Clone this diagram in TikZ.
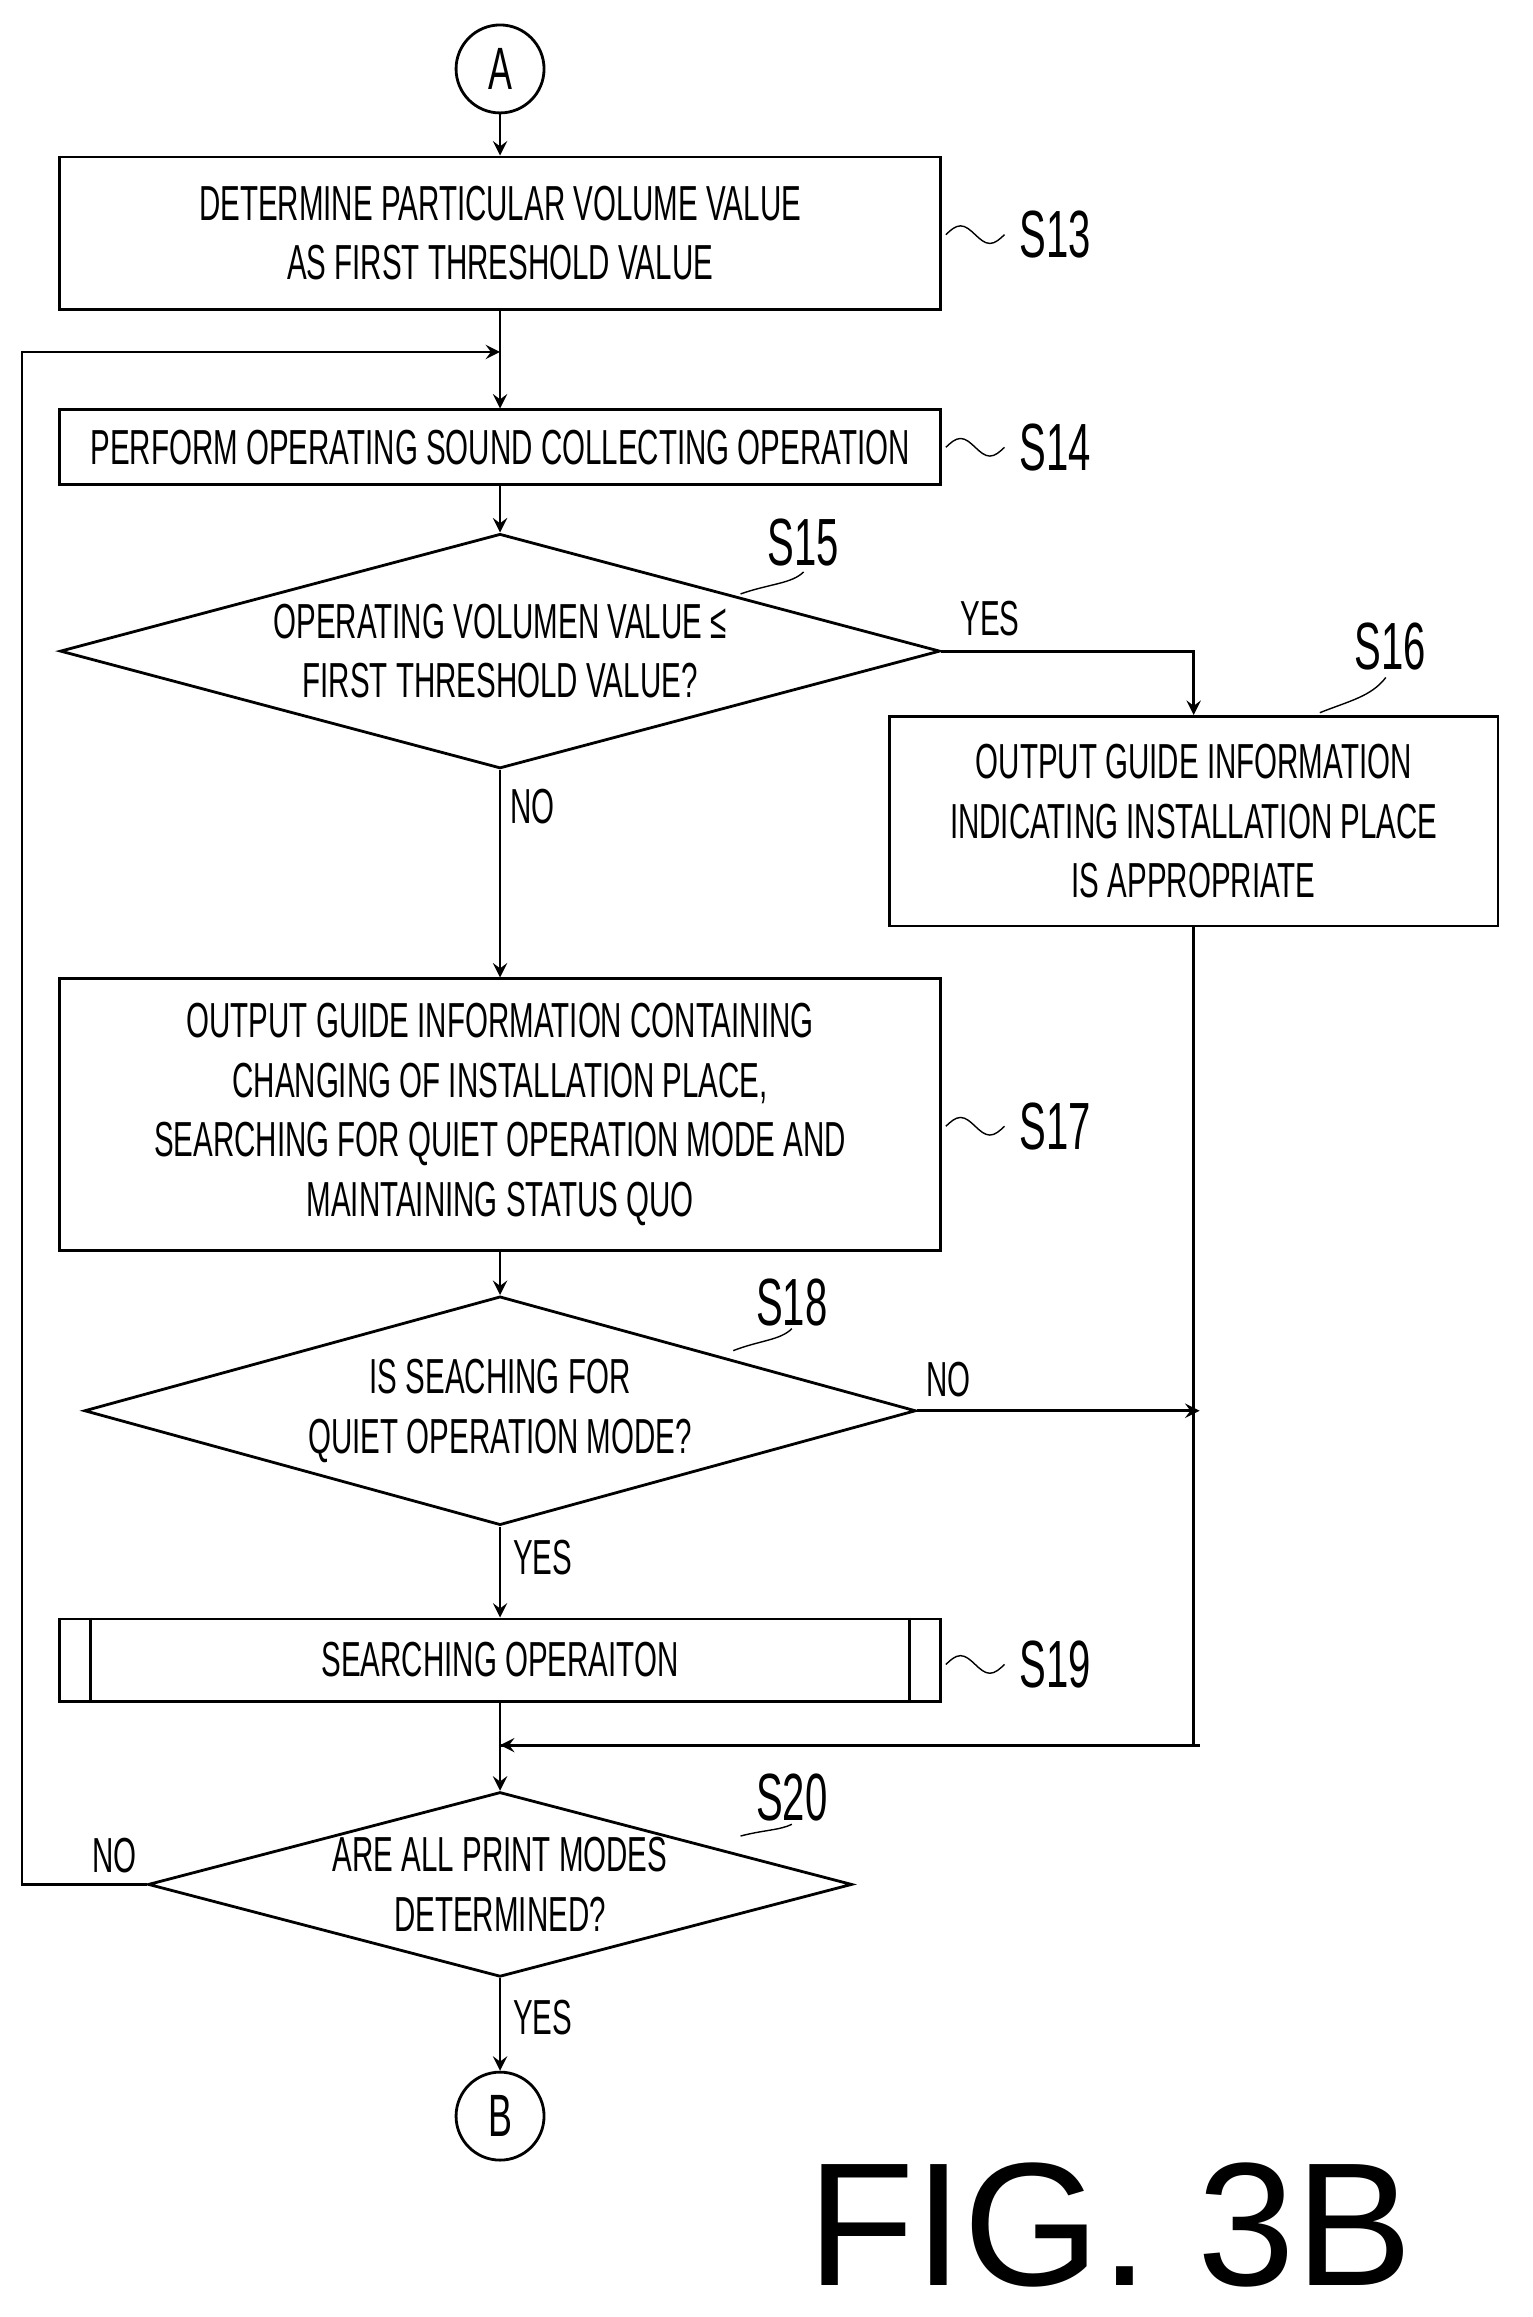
\documentclass[tikz,border=0pt]{standalone}
\usepackage{fontspec}
\setmainfont[FakeStretch=0.6]{Liberation Sans}
\newfontfamily\figfont{Liberation Sans}
\usetikzlibrary{shapes.geometric}
\begin{document}
\begin{tikzpicture}
          [x=0.01467cm,y=-0.01467cm,font=\fontsize{14}{17}\selectfont,
          box/.style={shape=rectangle,draw,thick,align=center,inner sep=0pt,minimum width={601*0.01467cm}},
          dec/.style={shape=diamond,draw,thick,align=center,inner sep=0pt},
          term/.style={shape=circle,draw,thick,minimum size={60*0.01467cm},inner sep=0pt,font=\fontsize{17}{20}\selectfont},
          arc/.style={->,>=stealth,thick},
          edge/.style={thick}]
            \useasboundingbox (0,0) rectangle (1045,1580);

            \node (a) [term] at (341,47) {A};
            \node (s13) [box,minimum height={104*0.01467cm}] at (341,159) {DETERMINE PARTICULAR VOLUME VALUE\\AS FIRST THRESHOLD VALUE};
            \node (s14) [box,minimum height={51*0.01467cm}] at (341,305) {PERFORM OPERATING SOUND COLLECTING OPERATION};
            \node (s15) [dec,aspect=3.75,minimum width={600*0.01467cm},minimum height={160*0.01467cm}] at (341,444) {OPERATING VOLUMEN VALUE ≤\\FIRST THRESHOLD VALUE?};
            \node (s16) [box,minimum width={415*0.01467cm},minimum height={143*0.01467cm}] at (814,560) {OUTPUT GUIDE INFORMATION\\INDICATING INSTALLATION PLACE\\IS APPROPRIATE};
            \node (s17) [box,minimum height={185*0.01467cm}] at (341,760) {OUTPUT GUIDE INFORMATION CONTAINING\\CHANGING OF INSTALLATION PLACE,\\SEARCHING FOR QUIET OPERATION MODE AND\\MAINTAINING STATUS QUO};
            \node (s18) [dec,aspect=3.63,minimum width={567*0.01467cm},minimum height={156*0.01467cm}] at (341,962) {IS SEACHING FOR\\QUIET OPERATION MODE?};
            \node (s19) [box,minimum height={56*0.01467cm}] at (341,1132) {SEARCHING OPERAITON};
            \node (s20) [dec,aspect=3.8,minimum width={480*0.01467cm},minimum height={126*0.01467cm}] at (341,1285) {ARE ALL PRINT MODES\\DETERMINED?};
            \node (b) [term] at (341,1443) {B};
            \node (fig) [font=\figfont\fontsize{50}{56}\selectfont] at (757,1517) {FIG. 3B};

            % step labels
            \foreach \n/\x/\y in {13/645/160,14/645/305,17/645/768,19/645/1135}
              {\draw [edge,thin] (\x,\y) sin (\x+10,\y-6) cos (\x+20,\y) sin (\x+30,\y+6) cos (\x+40,\y);
               \node (l\n) [anchor=west] at (\x+42,\y) {\fontsize{19}{22}\selectfont S\n};}
            \node (l15) at (548,370) {\fontsize{19}{22}\selectfont S15};
            \node (l16) at (948,441) {\fontsize{19}{22}\selectfont S16};
            \node (l18) at (540,888) {\fontsize{19}{22}\selectfont S18};
            \node (l20) at (540,1226) {\fontsize{19}{22}\selectfont S20};
            \draw [edge,thin] (505,405) .. controls (525,398) and (540,398) .. (548,390);
            \draw [edge,thin] (900,486) .. controls (920,478) and (935,475) .. (945,462);
            \draw [edge,thin] (500,921) .. controls (518,914) and (532,914) .. (540,906);
            \draw [edge,thin] (505,1252) .. controls (520,1248) and (532,1248) .. (540,1244);

            \draw [edge] ([xshift={22*0.01467cm}]s19.north west) -- ([xshift={22*0.01467cm}]s19.south west);
            \draw [edge] ([xshift={-22*0.01467cm}]s19.north east) -- ([xshift={-22*0.01467cm}]s19.south east);

            \coordinate (loop) at (341,240);
            \coordinate (join) at (341,1190);
            \draw [arc] (a) -- (s13);
            \draw [edge] (s13) -- (loop);
            \draw [arc] (loop) -- (s14);
            \draw [arc] (s14) -- (s15);
            \draw [arc] (s15.east) -| (s16.north);
            \draw [arc] (s15.south) -- (s17.north);
            \draw [arc] (s17) -- (s18);
            \draw [arc] (s18.east) -- (818,962);
            \draw [edge] (s16.south) |- (join);
            \draw [arc] (818,1190) -- (join);
            \draw [arc] (s18.south) -- (s19.north);
            \draw [arc] (s19) -- (s20);
            \draw [arc] (s20.west) -- (15,1285) -- (15,240) -- (loop);
            \draw [arc] (s20.south) -- (b);

            \node at (675,422) {YES};
            \node at (363,550) {NO};
            \node at (647,941) {NO};
            \node at (370,1062) {YES};
            \node at (78,1265) {NO};
            \node at (370,1376) {YES};
        \end{tikzpicture}
\end{document}
